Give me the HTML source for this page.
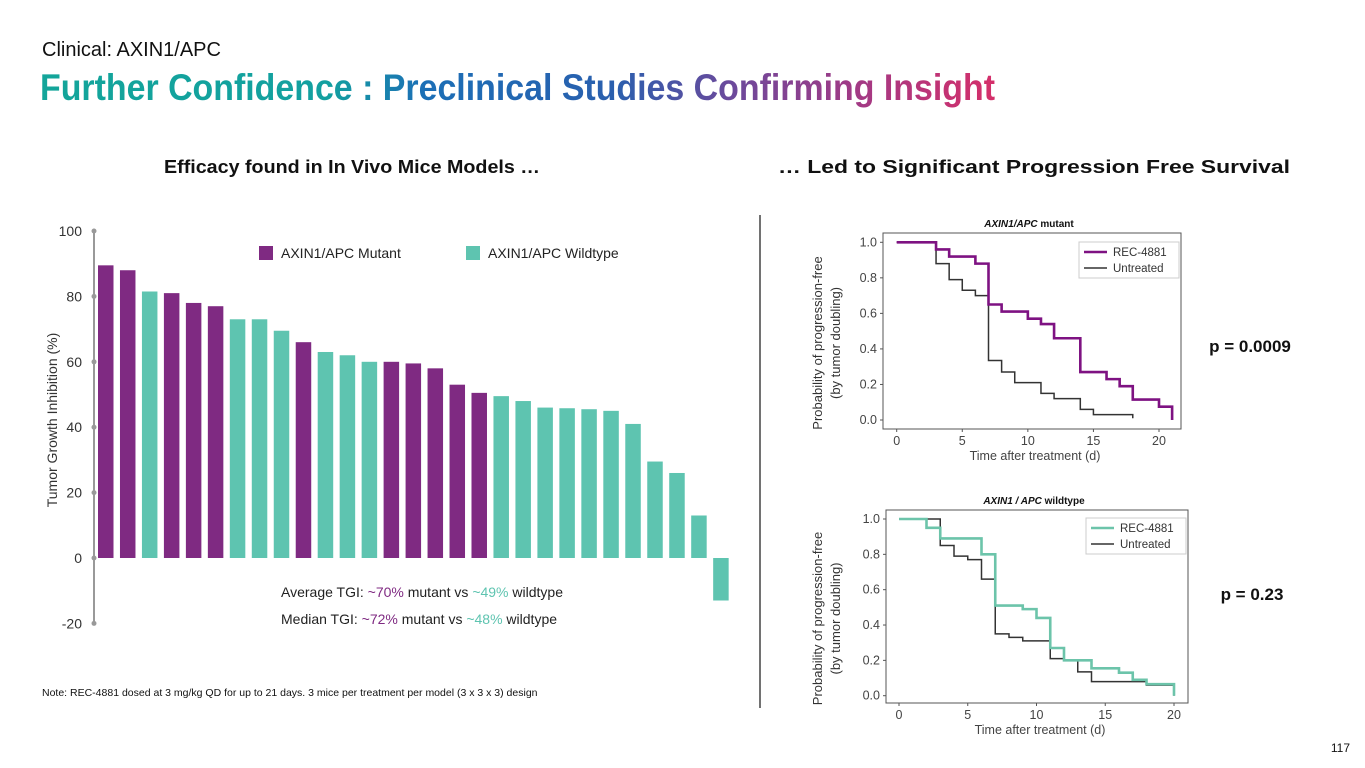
<!DOCTYPE html>
<html><head><meta charset="utf-8"><style>
html,body{margin:0;padding:0;background:#fff;}
svg{display:block;font-family:"Liberation Sans",sans-serif;}
</style></head><body>
<svg id="s" width="1365" height="768" viewBox="0 0 1365 768" xmlns="http://www.w3.org/2000/svg">
<defs>
<linearGradient id="tg" x1="42" x2="995" y1="0" y2="0" gradientUnits="userSpaceOnUse">
<stop offset="0" stop-color="#13a59a"/><stop offset="0.3" stop-color="#13a0a0"/><stop offset="0.4" stop-color="#1c6fb6"/><stop offset="0.6" stop-color="#2a5fae"/><stop offset="0.72" stop-color="#6a4a9c"/><stop offset="0.85" stop-color="#a03a86"/><stop offset="1" stop-color="#d52f6a"/>
</linearGradient>
</defs>
<text x="42" y="56" font-size="20" fill="#111">Clinical: AXIN1/APC</text>
<text x="40" y="100" font-size="37" font-weight="bold" fill="url(#tg)" textLength="955" lengthAdjust="spacingAndGlyphs">Further Confidence : Preclinical Studies Confirming Insight</text>
<text x="352" y="173" font-size="18" font-weight="bold" text-anchor="middle" fill="#111" textLength="376" lengthAdjust="spacingAndGlyphs">Efficacy found in In Vivo Mice Models …</text>
<text x="1034" y="173" font-size="18" font-weight="bold" text-anchor="middle" fill="#111" textLength="512" lengthAdjust="spacingAndGlyphs">… Led to Significant Progression Free Survival</text>
<line x1="760" y1="215" x2="760" y2="708" stroke="#444" stroke-width="1.5"/>
<text x="1250" y="352" font-size="17" font-weight="bold" text-anchor="middle" fill="#111">p = 0.0009</text>
<text x="1252" y="600" font-size="17" font-weight="bold" text-anchor="middle" fill="#111">p = 0.23</text>
<text x="42" y="696" font-size="10.5" fill="#111">Note: REC-4881 dosed at 3 mg/kg QD for up to 21 days. 3 mice per treatment per model (3 x 3 x 3) design</text>
<text x="1350" y="752" font-size="12" text-anchor="end" fill="#111">117</text>
<g id="bar"></g>
<g id="km1"></g>
<g id="km2"></g>
</svg>
<script>
const barValues=[89.5,88,81.5,81,78,77,73,73,69.5,66,63,62,60,60,59.5,58,53,50.5,49.5,48,46,45.8,45.5,45,41,29.5,26,13,-13];
const barTypes=["M","M","W","M","M","M","W","W","W","M","W","W","W","M","M","M","M","M","W","W","W","W","W","W","W","W","W","W","W"];
const barTicks=[100,80,60,40,20,0,-20];
const km1Rec=[[0,1],[3,0.96],[4,0.92],[6,0.88],[7,0.65],[8,0.61],[10,0.57],[11,0.54],[12,0.46],[14,0.27],[16,0.23],[17,0.19],[18,0.115],[20,0.075],[21,0.0]];
const km1Unt=[[0,1],[3,0.88],[4,0.79],[5,0.73],[6,0.70],[7,0.335],[8,0.27],[9,0.21],[11,0.15],[12,0.12],[14,0.06],[15,0.03],[18,0.03],[18,0.01]];
const km2Rec=[[0,1],[2,0.95],[3,0.89],[6,0.80],[7,0.51],[9,0.49],[10,0.44],[11,0.27],[12,0.20],[14,0.155],[16,0.13],[17,0.09],[18,0.065],[20,0.065],[20,0.0]];
const km2Unt=[[0,1],[3,0.85],[4,0.79],[5,0.77],[6,0.66],[7,0.35],[8,0.33],[9,0.31],[11,0.21],[12,0.20],[13,0.135],[14,0.08],[18,0.06],[20,0.06],[20,0.0]];
const kmXTicks=[0,5,10,15,20];
const kmYTicks=[0,0.2,0.4,0.6,0.8,1.0];
const NS="http://www.w3.org/2000/svg";
function mk(p,t,a,txt){const e=document.createElementNS(NS,t);for(const k in a)e.setAttribute(k,a[k]);if(txt!==undefined)e.textContent=txt;p.appendChild(e);return e;}
const PUR="#7f2a82",TEAL="#5ec4b0";
(function(){
const g=document.getElementById('bar');
const y=v=>558-v*3.27;
const x=i=>98+i*21.97;
const ax=mk(g,'line',{x1:94,y1:y(100),x2:94,y2:y(-20),stroke:'#999','stroke-width':2});


barTicks.forEach(t=>{
const c=mk(g,'circle',{cx:94,cy:y(t),r:2.5,fill:'#999'});


const l=mk(g,'text',{x:82,y:y(t)+5,'font-size':14,'text-anchor':'end',fill:'#333'},String(t));


});
barValues.forEach((v,i)=>{
const r=mk(g,'rect',{x:x(i),y:Math.min(y(v),y(0)),width:15.5,height:Math.abs(y(v)-y(0)),fill:barTypes[i]==='M'?PUR:TEAL});


});
const yt=mk(g,'text',{x:0,y:0,'font-size':14,'text-anchor':'middle',fill:'#333',transform:'translate(57,420) rotate(-90)'},'Tumor Growth Inhibition (%)');


const l1=mk(g,'rect',{x:259,y:246,width:14,height:14,fill:PUR});


const t1=mk(g,'text',{x:281,y:258,'font-size':14,fill:'#222'},'AXIN1/APC Mutant');


const l2=mk(g,'rect',{x:466,y:246,width:14,height:14,fill:TEAL});


const t2=mk(g,'text',{x:488,y:258,'font-size':14,fill:'#222'},'AXIN1/APC Wildtype');


[[597,'Average TGI: ','~70%','~49%','avg-tgi-note'],[624,'Median TGI: ','~72%','~48%','median-tgi-note']].forEach(a=>{
const t=mk(g,'text',{x:281,y:a[0],'font-size':14,fill:'#222'});


mk(t,'tspan',{},a[1]);mk(t,'tspan',{fill:PUR},a[2]);mk(t,'tspan',{},' mutant vs ');mk(t,'tspan',{fill:TEAL},a[3]);mk(t,'tspan',{},' wildtype');
});
})();
function km(id,box,x0,x20,y1,y0,rec,unt,recColor,title,legY){
const g=document.getElementById(id);
const X=d=>x0+d*(x20-x0)/20, Y=p=>y0-p*(y0-y1);
const fr=mk(g,'rect',{x:box[0],y:box[1],width:box[2]-box[0],height:box[3]-box[1],fill:'none',stroke:'#555','stroke-width':1});


kmXTicks.forEach(t=>{mk(g,'line',{x1:X(t),x2:X(t),y1:box[3],y2:box[3]+3,stroke:'#555'});
const l=mk(g,'text',{x:X(t),y:box[3]+16,'font-size':12.5,'text-anchor':'middle',fill:'#444'},String(t));

});
kmYTicks.forEach(t=>{mk(g,'line',{x1:box[0]-3,x2:box[0],y1:Y(t),y2:Y(t),stroke:'#555'});
const l=mk(g,'text',{x:box[0]-6,y:Y(t)+4,'font-size':12.5,'text-anchor':'end',fill:'#444'},t.toFixed(1));

});
function step(pts){let d='M'+X(pts[0][0])+','+Y(pts[0][1]);for(let i=1;i<pts.length;i++){d+=' H'+X(pts[i][0])+' V'+Y(pts[i][1]);}return d;}
const pu=mk(g,'path',{d:step(unt),fill:'none',stroke:'#333','stroke-width':1.5});


const pr=mk(g,'path',{d:step(rec),fill:'none',stroke:recColor,'stroke-width':2.6});


const lb=mk(g,'rect',{x:box[2]-102,y:legY,width:100,height:36,fill:'#fff',stroke:'#ccc'});


mk(g,'line',{x1:box[2]-97,x2:box[2]-74,y1:legY+10,y2:legY+10,stroke:recColor,'stroke-width':2.6});
const a=mk(g,'text',{x:box[2]-68,y:legY+14,'font-size':11.5,fill:'#333'},'REC-4881');


mk(g,'line',{x1:box[2]-97,x2:box[2]-74,y1:legY+26,y2:legY+26,stroke:'#333','stroke-width':1.5});
const b=mk(g,'text',{x:box[2]-68,y:legY+30,'font-size':11.5,fill:'#333'},'Untreated');


const cx=(box[0]+box[2])/2;
const tt=mk(g,'text',{x:cx-3,y:box[1]-6,'font-size':10,'font-weight':'bold','text-anchor':'middle',fill:'#111'});


mk(tt,'tspan',{'font-style':'italic'},title[0]);mk(tt,'tspan',{},title[1]);
const xl=mk(g,'text',{x:cx+3,y:box[3]+31,'font-size':12.5,'text-anchor':'middle',fill:'#444'},'Time after treatment (d)');


const cy=(box[1]+box[3])/2+12;
const y1t=mk(g,'text',{x:0,y:0,'font-size':13,'text-anchor':'middle',fill:'#333',transform:'translate(822,'+cy+') rotate(-90)'},'Probability of progression-free');


const y2t=mk(g,'text',{x:0,y:0,'font-size':13,'text-anchor':'middle',fill:'#333',transform:'translate(840,'+cy+') rotate(-90)'},'(by tumor doubling)');


}
km('km1',[883,233,1181,429],896.7,1159,242.3,420,km1Rec,km1Unt,'#7e1282',['AXIN1/APC',' mutant'],242);
km('km2',[886,510,1188,703],899,1174,519,695.7,km2Rec,km2Unt,'#6cc4aa',['AXIN1 / APC',' wildtype'],518);
</script>
</body></html>
